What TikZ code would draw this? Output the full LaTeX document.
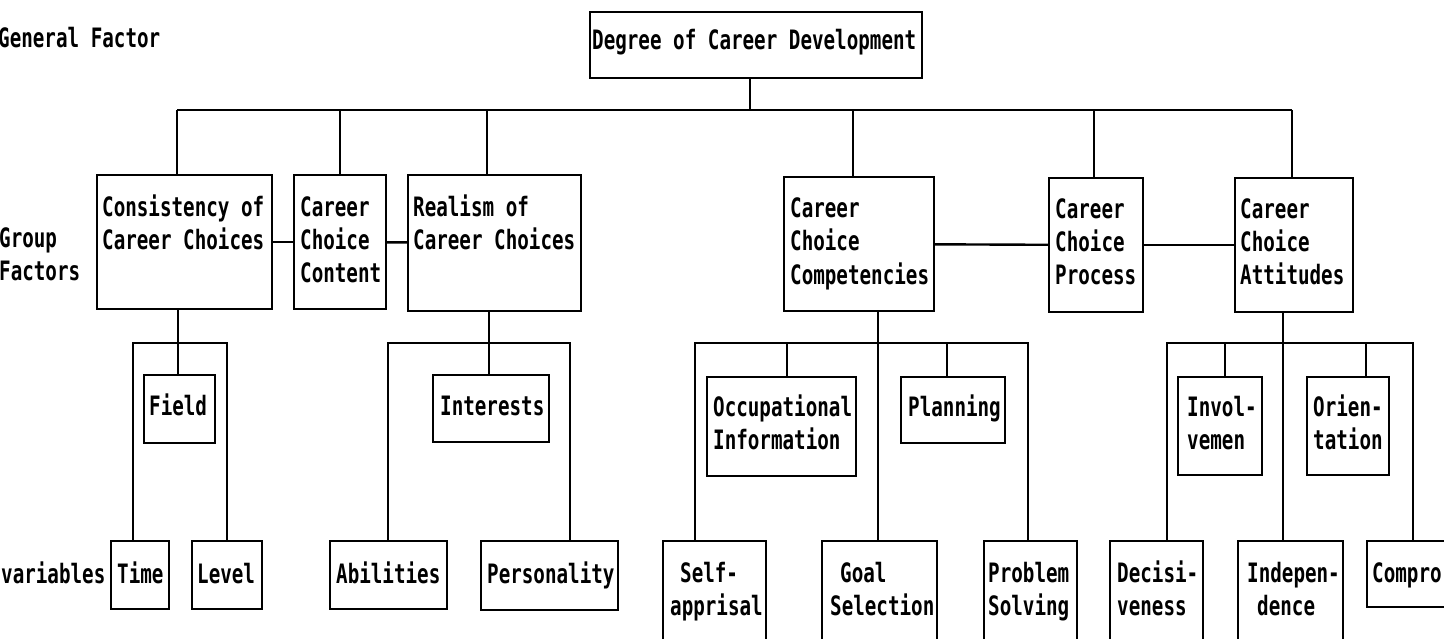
\documentclass[tikz,border=0pt]{standalone}
\usepackage{fontspec}
\newfontfamily\dotfont[FakeStretch=0.72]{DejaVu Sans Mono}
\tikzset{
  box/.style={draw, line width=2.4pt, rectangle, inner sep=0pt},
  txt/.style={font=\dotfont\bfseries\fontsize{26.7}{33}\selectfont, inner sep=0pt, anchor=base west},
  con/.style={line width=2.4pt, line join=miter}
}
\newcommand\bx[5]{\node[box, minimum width={#4-#2}, minimum height={#5-#3}] (#1) at ({(#2+#4)/2},{(#3+#5)/2}) {};}
\newcommand\tl[4]{\foreach \t [count=\i] in {#4} {\node[txt] (#1-\i) at (#2,{#3+33*(\i-1)}) {\t};}}
\begin{document}
\begin{tikzpicture}[x=1pt,y=-1pt]
\useasboundingbox (0,0) rectangle (1444,639);
\fill[white] (0,0) rectangle (1444,639);
\clip (0,0) rectangle (1444,639);
% boxes
\bx{deg}{590}{12}{922}{78}
\bx{cons}{97}{175}{272}{309}
\bx{cont}{294}{175}{386}{309}
\bx{real}{408}{175}{581}{311}
\bx{comp}{784}{177}{934}{311}
\bx{proc}{1049}{178}{1143}{312}
\bx{att}{1235}{178}{1353}{312}
\bx{field}{144}{375}{215}{443}
\bx{inter}{433}{375}{549}{442}
\bx{occ}{707}{377}{856}{476}
\bx{plan}{901}{377}{1005}{443}
\bx{invol}{1178}{377}{1262}{475}
\bx{orient}{1307}{377}{1389}{475}
\bx{time}{111}{541}{169}{609}
\bx{level}{192}{541}{262}{609}
\bx{abil}{330}{541}{447}{609}
\bx{pers}{481}{541}{618}{610}
\bx{self}{663}{541}{766}{641}
\bx{goal}{822}{541}{937}{641}
\bx{prob}{984}{541}{1077}{641}
\bx{deci}{1110}{541}{1203}{641}
\bx{indep}{1238}{541}{1343}{641}
\bx{compro}{1367}{541}{1460}{607}
% top bus
\coordinate (t0) at (750,110);
\coordinate (t1) at (177,110);
\coordinate (t2) at (340,110);
\coordinate (t3) at (487,110);
\coordinate (t4) at (853,110);
\coordinate (t5) at (1094,110);
\coordinate (t6) at (1292,110);
\draw[con] (t1) -- (t6);
\draw[con] (t0) -- (t0 |- deg.south);
\foreach \c/\n in {t1/cons,t2/cont,t3/real,t4/comp,t5/proc,t6/att}
  \draw[con] (\c) -- (\c |- \n.north);
% side links
\draw[con] (cons) -- (cont);
\draw[con] (cont) -- (real);
\draw[con] (comp) -- (proc);
\draw[con] (proc) -- (att);
% consistency tree
\coordinate (c1) at (178,343);
\coordinate (cL) at (133,343);
\coordinate (cR) at (227,343);
\draw[con] (c1 |- cons.south) -- (c1 |- field.north);
\draw[con] (cL |- time.north) -- (cL) -- (cR) -- (cR |- level.north);
% realism tree
\coordinate (r1) at (489,343);
\coordinate (rL) at (388,343);
\coordinate (rR) at (570,343);
\draw[con] (r1 |- real.south) -- (r1 |- inter.north);
\draw[con] (rL |- abil.north) -- (rL) -- (rR) -- (rR |- pers.north);
% competencies tree
\coordinate (k1) at (878,343);
\coordinate (kL) at (695,343);
\coordinate (kO) at (787,343);
\coordinate (kP) at (947,343);
\coordinate (kR) at (1028,343);
\draw[con] (k1 |- comp.south) -- (k1 |- goal.north);
\draw[con] (kL |- self.north) -- (kL) -- (kR) -- (kR |- prob.north);
\draw[con] (kO) -- (kO |- occ.north);
\draw[con] (kP) -- (kP |- plan.north);
% attitudes tree
\coordinate (a1) at (1283,343);
\coordinate (aL) at (1167,343);
\coordinate (aI) at (1225,343);
\coordinate (aO) at (1366,343);
\coordinate (aR) at (1413,343);
\draw[con] (a1 |- att.south) -- (a1 |- indep.north);
\draw[con] (aL |- deci.north) -- (aL) -- (aR) -- (aR |- compro.north);
\draw[con] (aI) -- (aI |- invol.north);
\draw[con] (aO) -- (aO |- orient.north);
% texts
\node[txt] (gen) at (-2,48) {General Factor};
\node[txt] (degt) at (592,50) {Degree of Career Development};
\tl{const}{102}{217}{Consistency of,Career Choices}
\tl{contt}{300}{217}{Career,Choice,Content}
\tl{realt}{413}{217}{Realism of,Career Choices}
\tl{compt}{790}{218}{Career,Choice,Competencies}
\tl{proct}{1055}{219}{Career,Choice,Process}
\tl{attt}{1240}{219}{Career,Choice,Attitudes}
\tl{grp}{-1}{248}{Group,Factors}
\node[txt] (fieldt) at (149,415) {Field};
\node[txt] (intert) at (440,415) {Interests};
\tl{occt}{713}{416}{Occupational,Information}
\node[txt] (plant) at (908,416) {Planning};
\tl{involt}{1187}{416}{Invol-,vemen}
\tl{orientt}{1313}{416}{Orien-,tation}
\node[txt] (vart) at (1,583) {variables};
\node[txt] (timet) at (117,583) {Time};
\node[txt] (levelt) at (197,583) {Level};
\node[txt] (abilt) at (336,583) {Abilities};
\node[txt] (perst) at (487,583) {Personality};
\node[txt] (selft1) at (680,582) {Self-};
\node[txt] (selft2) at (670,615) {apprisal};
\node[txt] (goalt1) at (840,582) {Goal};
\node[txt] (goalt2) at (830,615) {Selection};
\tl{probt}{988}{582}{Problem,Solving}
\tl{decit}{1117}{582}{Decisi-,veness}
\node[txt] (indept1) at (1247,582) {Indepen-};
\node[txt] (indept2) at (1257,615) {dence};
\node[txt] (comprot) at (1372,582) {Compro};
\end{tikzpicture}
\end{document}
